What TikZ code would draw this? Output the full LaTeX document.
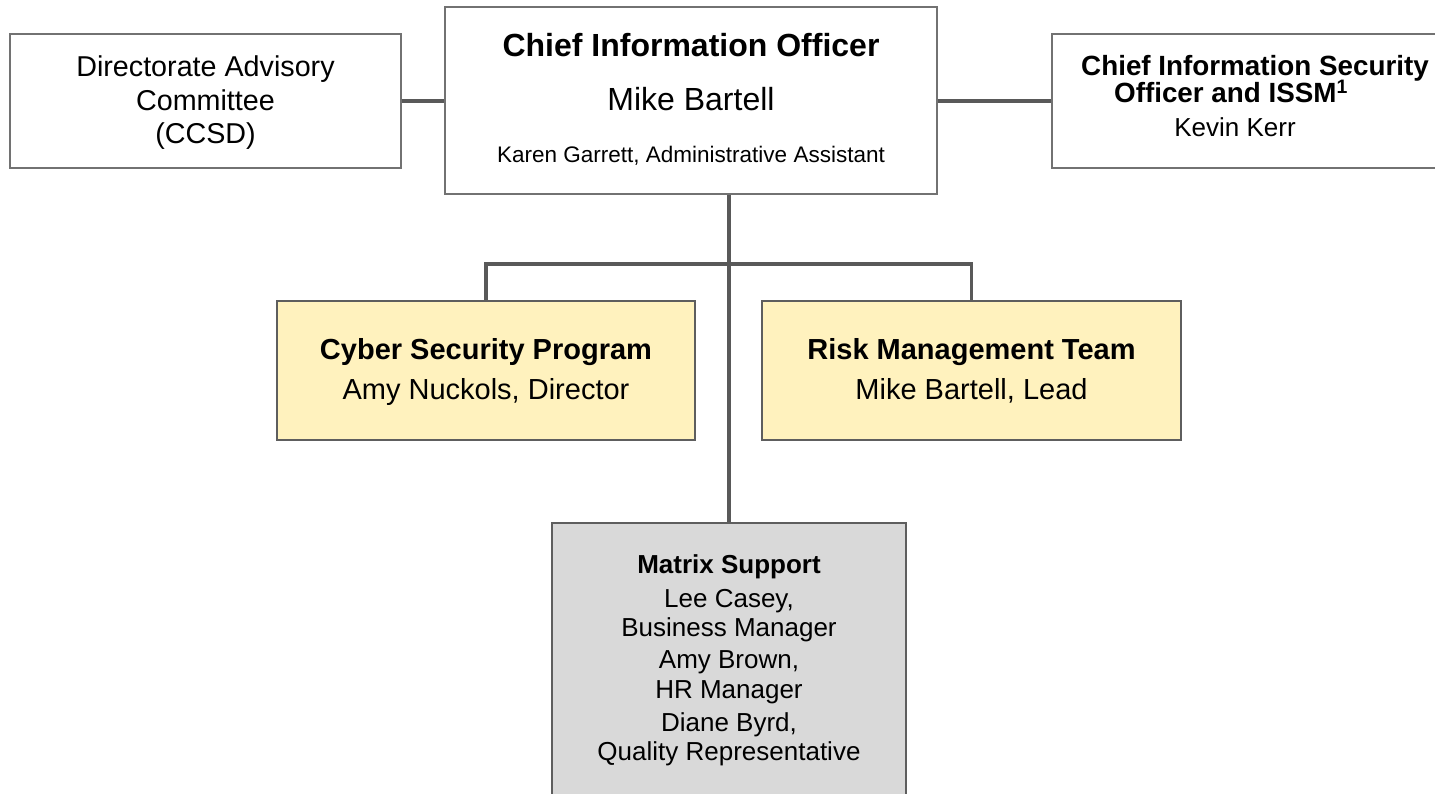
\documentclass[tikz,border=0pt]{standalone}
\usepackage{fontspec}
\setmainfont{Liberation Sans}
\definecolor{linegray}{HTML}{595959}
\definecolor{bordergray}{HTML}{727272}
\definecolor{darkborder}{HTML}{5E5E5E}
\definecolor{paleyellow}{HTML}{FFF2BE}
\definecolor{boxgray}{HTML}{D9D9D9}
\tikzset{
  whitebox/.style={draw=bordergray, line width=1.8pt, fill=white, inner sep=0pt},
  yellowbox/.style={draw=darkborder, line width=2.4pt, fill=paleyellow, inner sep=0pt},
  graybox/.style={draw=darkborder, line width=2.4pt, fill=boxgray, inner sep=0pt},
  connector/.style={draw=linegray, line width=3.6pt},
  txt/.style={anchor=base, inner sep=0pt, text=black},
}
\newcommand{\fs}[1]{\fontsize{#1pt}{#1pt}\selectfont}
\begin{document}
\begin{tikzpicture}[x=1pt, y=-1pt]
\useasboundingbox (0,0) rectangle (1435,793);
\fill[white] (0,0) rectangle (1435,793);
\clip (0,0) rectangle (1435,793);

% boxes
\node[whitebox, minimum width=391pt, minimum height=134pt] (dac) at (205.5,101) {};
\node[whitebox, minimum width=492pt, minimum height=187pt] (cio) at (691,100.5) {};
\node[whitebox, minimum width=393pt, minimum height=134pt] (ciso) at (1248.5,101) {};
\node[yellowbox, minimum width=418pt, minimum height=139pt] (csp) at (486,370.5) {};
\node[yellowbox, minimum width=419pt, minimum height=139pt] (rmt) at (971.5,370.5) {};
\node[graybox, minimum width=354pt, minimum height=300pt] (ms) at (729,673) {};

% connectors
\draw[connector] (dac.east) -- (cio.west |- dac.east);
\draw[connector] (cio.east |- ciso.west) -- (ciso.west);
\draw[connector] (ms.north) -- (ms.north |- cio.south);
\draw[connector] (csp.north) -- (csp.north |- 0,264) -| (rmt.north);

% text: directorate advisory committee
\node[txt, font=\fs{28.7}] (dac1) at (205.5,76) {Directorate Advisory};
\node[txt, font=\fs{28.7}] (dac2) at (205.5,110) {Committee};
\node[txt, font=\fs{28.7}] (dac3) at (205.5,143) {(CCSD)};

% CIO
\node[txt, font=\fs{32}\bfseries] (cio1) at (691,56) {Chief Information Officer};
\node[txt, font=\fs{32}] (cio2) at (691,110) {Mike Bartell};
\node[txt, font=\fs{22.5}] (cio3) at (691,162) {Karen Garrett, Administrative Assistant};

% CISO
\node[txt, font=\fs{27.8}\bfseries] (ciso1) at (1255,75) {Chief Information Security};
\node[txt, font=\fs{27.8}\bfseries] (ciso2) at (1231,102.5) {Officer and ISSM\textsuperscript{1}};
\node[txt, font=\fs{26}] (ciso3) at (1235,136.5) {Kevin Kerr};

% yellow boxes
\node[txt, font=\fs{29}\bfseries] (csp1) at (486,359) {Cyber Security Program};
\node[txt, font=\fs{29}] (csp2) at (486,399) {Amy Nuckols, Director};
\node[txt, font=\fs{29}\bfseries] (rmt1) at (971.5,359) {Risk Management Team};
\node[txt, font=\fs{29}] (rmt2) at (971.5,399) {Mike Bartell, Lead};

% matrix support
\node[txt, font=\fs{26}\bfseries] (ms1) at (729,573) {Matrix Support};
\node[txt, font=\fs{26}] (ms2) at (729,607) {Lee Casey,};
\node[txt, font=\fs{26}] (ms3) at (729,636) {Business Manager};
\node[txt, font=\fs{26}] (ms4) at (729,668) {Amy Brown,};
\node[txt, font=\fs{26}] (ms5) at (729,698) {HR Manager};
\node[txt, font=\fs{26}] (ms6) at (729,731) {Diane Byrd,};
\node[txt, font=\fs{26}] (ms7) at (729,760) {Quality Representative};
\end{tikzpicture}
\end{document}
